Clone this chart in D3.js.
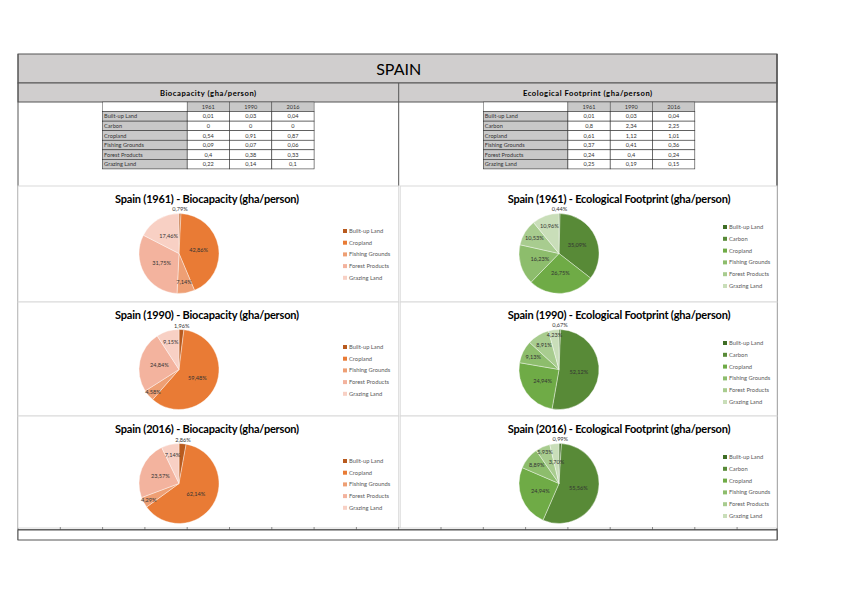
<!DOCTYPE html>
<html>
<head>
<meta charset="utf-8">
<script src="https://cdn.jsdelivr.net/npm/d3@7"></script>
<style>
  body { margin: 0; background: #fff; }
  svg { display: block; font-family: Lato, "Open Sans", sans-serif; }
  .cell-text { font-size: 5.6px; fill: #333; }
  .pie-label { font-size: 5.6px; fill: #333; }
  .legend-text { font-size: 5.8px; fill: #595959; }
  .chart-title { font-size: 11px; font-weight: bold; fill: #000; letter-spacing: -0.2px; }
  .sub-head { font-size: 7.6px; font-weight: bold; fill: #000; letter-spacing: 0.55px; }
</style>
</head>
<body>
<svg id="chart" width="848" height="599"></svg>
<script>
const categories = ["Built-up Land", "Carbon", "Cropland", "Fishing Grounds", "Forest Products", "Grazing Land"];
const years = ["1961", "1990", "2016"];

const bio1961 = [0.01, 0, 0.54, 0.09, 0.4, 0.22];
const bio1990 = [0.03, 0, 0.91, 0.07, 0.38, 0.14];
const bio2016 = [0.04, 0, 0.87, 0.06, 0.33, 0.1];

const ef1961 = [0.01, 0.8, 0.61, 0.37, 0.24, 0.25];
const ef1990 = [0.03, 2.34, 1.12, 0.41, 0.4, 0.19];
const ef2016 = [0.04, 2.25, 1.01, 0.36, 0.24, 0.15];

const bioColors = ["#b85a1e", "#c9c9c9", "#e97b35", "#ee9f74", "#f3b39e", "#f8d0c4"];
const efColors = ["#3f6d25", "#588a37", "#6fab46", "#8dbd6c", "#a8cc8f", "#c9deb9"];

const svg = d3.select("#chart");
const locale = d3.formatLocale({ decimal: ",", thousands: ".", grouping: [3], currency: ["", "€"] });
const pct = locale.format(".2%");
const num = (v) => String(v).replace(".", ",");

// spreadsheet column grid
const col = d3.scaleLinear().domain([0, 18]).range([18, 779.4]);
const left = 18, right = 777, mid = col(9);

// header bands
svg.append("rect").attr("x", left).attr("y", 54).attr("width", right - left).attr("height", 29)
  .attr("fill", "#d0cece").attr("stroke", "#555").attr("stroke-width", 1);
svg.append("text").attr("x", mid).attr("y", 75).attr("text-anchor", "middle")
  .attr("font-size", 16).attr("fill", "#000").text("SPAIN");
svg.append("rect").attr("x", left).attr("y", 83).attr("width", right - left).attr("height", 19)
  .attr("fill", "#d0cece").attr("stroke", "#555").attr("stroke-width", 1);
svg.append("text").attr("class", "sub-head").attr("x", (left + mid) / 2).attr("y", 95.5).attr("text-anchor", "middle")
  .text("Biocapacity (gha/person)");
svg.append("text").attr("class", "sub-head").attr("x", (mid + right) / 2).attr("y", 95.5).attr("text-anchor", "middle")
  .text("Ecological Footprint (gha/person)");

// outer border lines
svg.append("line").attr("x1", left).attr("x2", left).attr("y1", 54).attr("y2", 540).attr("stroke", "#555");
svg.append("line").attr("x1", right).attr("x2", right).attr("y1", 54).attr("y2", 540).attr("stroke", "#555").attr("stroke-width", 1.5);
svg.append("line").attr("x1", mid).attr("x2", mid).attr("y1", 83).attr("y2", 186).attr("stroke", "#555");

// tables
const tableTop = 102, headH = 9.6, rowH = 9.55;
function drawTable(startCol, values) {
  const g = svg.append("g");
  const x0 = col(startCol), x1 = col(startCol + 2);
  const yc = (i) => col(startCol + 2 + i);
  g.append("rect").attr("x", x0).attr("y", tableTop).attr("width", x1 - x0).attr("height", headH)
    .attr("fill", "#fff").attr("stroke", "#444").attr("stroke-width", 0.5);
  years.forEach((yr, j) => {
    g.append("rect").attr("x", yc(j)).attr("y", tableTop).attr("width", yc(j + 1) - yc(j)).attr("height", headH)
      .attr("fill", "#c8c8c8").attr("stroke", "#444").attr("stroke-width", 0.5);
    g.append("text").attr("class", "cell-text").attr("x", (yc(j) + yc(j + 1)) / 2).attr("y", tableTop + 6.8)
      .attr("text-anchor", "middle").text(yr);
  });
  categories.forEach((c, i) => {
    const y = tableTop + headH + i * rowH;
    g.append("rect").attr("x", x0).attr("y", y).attr("width", x1 - x0).attr("height", rowH)
      .attr("fill", "#c8c8c8").attr("stroke", "#333").attr("stroke-width", 0.6);
    g.append("text").attr("class", "cell-text").attr("x", x0 + 1.5).attr("y", y + 6.8).text(c);
    values.forEach((arr, j) => {
      g.append("rect").attr("x", yc(j)).attr("y", y).attr("width", yc(j + 1) - yc(j)).attr("height", rowH)
        .attr("fill", "#fff").attr("stroke", "#333").attr("stroke-width", 0.6);
      g.append("text").attr("class", "cell-text").attr("x", (yc(j) + yc(j + 1)) / 2).attr("y", y + 6.8)
        .attr("text-anchor", "middle").text(num(arr[i]));
    });
  });
}
drawTable(2, [bio1961, bio1990, bio2016]);
drawTable(11, [ef1961, ef1990, ef2016]);

// chart panels
const panelTops = [186, 302, 416];
const panelBottoms = [302, 416, 528];
const panels = [
  { side: 0, row: 0, year: years[0], kind: "Biocapacity", values: bio1961, colors: bioColors },
  { side: 0, row: 1, year: years[1], kind: "Biocapacity", values: bio1990, colors: bioColors },
  { side: 0, row: 2, year: years[2], kind: "Biocapacity", values: bio2016, colors: bioColors },
  { side: 1, row: 0, year: years[0], kind: "Ecological Footprint", values: ef1961, colors: efColors },
  { side: 1, row: 1, year: years[1], kind: "Ecological Footprint", values: ef1990, colors: efColors },
  { side: 1, row: 2, year: years[2], kind: "Ecological Footprint", values: ef2016, colors: efColors }
];

const radius = 40;
const pie = d3.pie().sort(null).value((d) => d.value);
const arc = d3.arc().innerRadius(0).outerRadius(radius);

// "best fit" style label placement: inside first, outside if it collides
function placeLabels(arcs, total) {
  const placed = [];
  const order = arcs.slice().sort((a, b) => b.data.value - a.data.value);
  const box = (x, y, t) => ({ x0: x - t.length * 1.5, x1: x + t.length * 1.5, y0: y - 3.2, y1: y + 3.2 });
  const hit = (b) => placed.some((p) => b.x0 < p.x1 && b.x1 > p.x0 && b.y0 < p.y1 && b.y1 > p.y0);
  order.forEach((d) => {
    const share = d.data.value / total;
    const a = (d.startAngle + d.endAngle) / 2;
    const t = pct(share);
    let radii;
    if (share < 0.02) radii = [radius + 4, radius + 10];
    else if (share < 0.06) radii = [radius * 0.86, radius * 0.55, radius + 4, radius + 10];
    else if (share < 0.15) radii = [radius * 0.72, radius + 7, radius + 13];
    else radii = [radius * 0.5];
    let pos;
    for (const r of radii) {
      const x = Math.sin(a) * r, y = -Math.cos(a) * r;
      pos = { x, y, b: box(x, y, t) };
      if (!hit(pos.b)) break;
    }
    placed.push(pos.b);
    d.lx = pos.x;
    d.ly = pos.y;
    d.label = t;
  });
}

panels.forEach((p) => {
  const top = panelTops[p.row];
  const px0 = p.side === 0 ? left : mid + 1.5;
  const px1 = p.side === 0 ? mid : right;
  const g = svg.append("g");

  g.append("rect").attr("x", px0).attr("y", top).attr("width", px1 - px0).attr("height", panelBottoms[p.row] - top)
    .attr("fill", "#fff").attr("stroke", "#d9d9d9").attr("stroke-width", 1);

  const titleX = p.side === 0 ? 207 : 619;
  g.append("text").attr("class", "chart-title").attr("x", titleX).attr("y", top + 17)
    .attr("text-anchor", "middle").text(`Spain (${p.year}) - ${p.kind} (gha/person)`);

  const cx = p.side === 0 ? 179 : 559;
  const cy = top + 67.5;
  const data = categories.map((c, i) => ({ name: c, value: p.values[i], color: p.colors[i] }));
  const total = d3.sum(data, (d) => d.value);
  const arcs = pie(data).filter((a) => a.data.value > 0);
  placeLabels(arcs, total);

  const pg = g.append("g").attr("transform", `translate(${cx},${cy})`);
  pg.selectAll("path").data(arcs).join("path")
    .attr("d", arc).attr("fill", (d) => d.data.color)
    .attr("stroke", "#fff").attr("stroke-width", 0.4);

  pg.selectAll("text").data(arcs).join("text")
    .attr("class", "pie-label").attr("text-anchor", "middle").attr("dy", "0.35em")
    .attr("transform", (d) => `translate(${d.lx},${d.ly})`)
    .text((d) => d.label);

  const legendItems = data.filter((d) => d.value > 0);
  const lx = p.side === 0 ? 343 : 723;
  const ly0 = top + (p.side === 0 ? 45 : 41);
  const step = p.side === 0 ? 11.7 : 11.8;
  const lg = g.append("g");
  lg.selectAll("rect").data(legendItems).join("rect")
    .attr("x", lx).attr("y", (d, i) => ly0 + i * step - 2)
    .attr("width", 4).attr("height", 4).attr("fill", (d) => d.color);
  lg.selectAll("text").data(legendItems).join("text")
    .attr("class", "legend-text").attr("x", lx + 6).attr("y", (d, i) => ly0 + i * step)
    .attr("dy", "0.35em").text((d) => d.name);
});

// bottom grid line and box
svg.append("line").attr("x1", left).attr("x2", right).attr("y1", 530).attr("y2", 530)
  .attr("stroke", "#444").attr("stroke-width", 1.5);
svg.append("g").selectAll("line").data(d3.range(1, 18)).join("line")
  .attr("x1", (i) => col(i)).attr("x2", (i) => col(i)).attr("y1", 527).attr("y2", 530)
  .attr("stroke", "#444").attr("stroke-width", 0.6);
svg.append("rect").attr("x", left).attr("y", 530).attr("width", right - left).attr("height", 10)
  .attr("fill", "#fff").attr("stroke", "#555").attr("stroke-width", 1);
</script>
</body>
</html>
